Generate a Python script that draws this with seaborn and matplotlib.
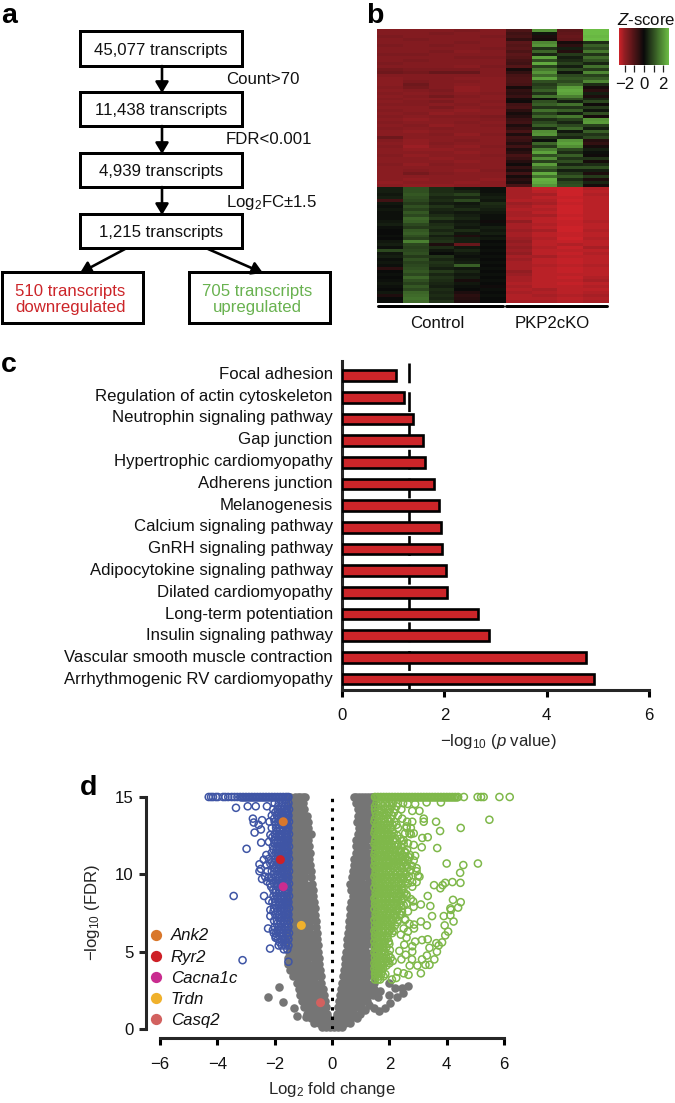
import numpy as np
import pandas as pd
import matplotlib
matplotlib.use("Agg")
import matplotlib.pyplot as plt
from matplotlib.colors import LinearSegmentedColormap
from matplotlib.patches import Rectangle
from matplotlib.transforms import ScaledTranslation
import seaborn as sns

# Panel a: flow chart text
flow_labels = ["45,077 transcripts", "11,438 transcripts", "4,939 transcripts", "1,215 transcripts"]
flow_steps = ["Count>70", "FDR<0.001", "Log$_2$FC\u00b11.5"]
down_label = "510 transcripts\ndownregulated"
up_label = "705 transcripts\nupregulated"

# Panel b: heatmap rows
top_control = [
    [-1.8,-1.8,-1.8,-1.7,-1.8],[-1.8,-1.8,-1.7,-1.8,-1.8],[-1.7,-1.8,-1.8,-1.8,-1.7],[-1.8,-1.7,-1.8,-1.8,-1.8],
    [-1.8,-1.8,-1.8,-1.7,-1.8],[-1.7,-1.8,-1.7,-1.8,-1.8],[-1.8,-1.8,-1.8,-1.8,-1.7],[-1.8,-1.8,-1.7,-1.9,-1.8],
    [-1.7,-1.7,-1.8,-1.8,-1.8],[-1.8,-1.8,-1.8,-1.7,-1.7],[-1.8,-1.7,-1.8,-1.8,-1.8],[-1.7,-1.8,-1.8,-1.8,-1.8],
    [-1.8,-1.8,-1.8,-1.9,-1.7],[-1.6,-1.7,-1.7,-1.7,-1.8],[-1.5,-1.6,-1.4,-1.4,-1.8],[-1.8,-1.8,-1.8,-1.8,-1.8],
    [-1.9,-1.8,-1.8,-1.9,-1.9],[-1.9,-1.7,-1.8,-1.8,-1.9],[-1.9,-1.5,-1.8,-1.9,-1.9],[-1.8,-1.6,-1.8,-2.0,-1.9],
    [-1.9,-1.8,-1.7,-2.0,-1.9],[-1.8,-1.9,-1.8,-1.9,-1.8],[-1.9,-1.8,-1.6,-1.8,-1.9],[-1.8,-1.9,-1.9,-1.9,-1.9],
    [-1.9,-1.8,-1.7,-1.9,-1.8],[-1.8,-1.8,-1.9,-1.8,-1.9],[-1.9,-1.9,-1.7,-1.9,-1.8],[-1.8,-1.9,-1.9,-2.0,-1.9],
    [-1.9,-1.8,-2.0,-1.9,-1.9],[-1.8,-1.9,-1.8,-1.8,-1.7],[-1.9,-2.0,-1.9,-1.9,-1.8],[-1.8,-1.9,-1.9,-1.8,-1.9],
    [-1.9,-1.8,-2.0,-1.9,-1.8],[-1.8,-1.9,-1.8,-1.9,-1.9],[-1.9,-2.0,-1.9,-1.9,-1.9],[-1.9,-1.9,-1.8,-2.0,-1.8],
    [-1.5,-1.9,-1.9,-1.9,-1.9],[-1.8,-2.0,-1.9,-1.8,-1.9],[-1.9,-2.0,-1.8,-1.9,-1.9],[-1.8,-2.1,-1.9,-2.0,-1.8],
    [-1.9,-2.0,-2.0,-1.9,-1.9],[-1.9,-1.9,-1.9,-2.0,-1.9],[-1.8,-2.0,-1.9,-1.9,-1.8],[-1.9,-1.9,-2.0,-1.9,-1.9],
    [-1.9,-1.9,-1.9,-2.0,-1.9],[-1.8,-2.0,-1.8,-1.9,-1.9],[-1.9,-1.9,-1.9,-1.9,-1.9],[-1.9,-1.8,-1.9,-2.0,-1.8],
    [-1.9,-1.6,-1.8,-1.9,-1.9],[-1.9,-1.9,-1.9,-1.9,-1.9],[-1.9,-2.0,-1.9,-1.9,-2.0],[-2.0,-1.9,-1.9,-2.0,-1.9],
    [-1.9,-2.0,-2.0,-1.9,-1.9],
]
top_ko = [
    [-1.0,2.0,-1.2,2.6],[-0.8,0.2,-1.3,2.6],[-0.9,-0.3,-1.4,2.5],[-0.6,-0.2,-1.3,2.6],[-1.2,1.8,-0.2,0.5],
    [-1.1,2.0,-0.5,1.2],[-1.2,0.6,0.3,0.9],[-1.0,1.3,-0.4,1.6],[-1.2,0.4,0.7,0.6],[-1.1,2.2,0.3,1.4],
    [-0.9,1.0,0.5,1.0],[-0.8,2.3,0.8,0.4],[-1.1,0.8,0.3,1.5],[-0.2,1.6,0.9,0.7],[-0.6,2.0,0.2,1.8],
    [-0.9,1.4,0.9,0.8],[-1.0,2.2,1.1,1.2],[-1.0,1.0,0.9,1.8],[-0.9,0.7,1.3,0.5],[-0.2,0.9,2.1,-0.2],
    [-0.6,1.2,2.3,-0.5],[-0.5,0.6,2.2,0.3],[-0.7,1.5,1.7,-0.3],[-0.2,0.1,1.0,0.4],[-0.1,1.0,0.3,0.9],
    [-0.8,1.2,1.5,-0.1],[-0.9,0.6,0.6,0.7],[-0.5,1.5,1.2,0.2],[-0.2,0.8,0.3,1.0],[-0.4,1.3,1.6,-0.2],
    [-0.7,0.5,0.8,2.0],[-0.8,0.9,0.4,2.1],[-0.3,1.2,0.9,0.8],[-0.6,0.4,1.4,0.3],[-0.9,1.9,0.2,1.2],
    [-0.3,2.0,0.7,0.6],[-0.8,0.6,0.4,0.9],[-0.7,0.1,2.0,-0.4],[-0.4,1.3,2.2,-0.6],[-0.8,0.7,1.9,-0.2],
    [-0.3,1.7,0.9,0.3],[-0.5,2.2,0.5,0.1],[-0.9,1.0,1.2,-0.1],[-0.7,1.9,0.6,0.6],[-0.4,0.8,1.0,-0.2],
    [-0.1,2.1,0.4,0.5],[-0.6,1.4,1.0,1.0],[-0.3,0.9,0.3,0.3],[-0.8,2.3,0.7,-0.3],[-0.2,1.5,1.1,0.7],
    [-0.5,2.4,0.5,-0.3],[-0.3,2.3,0.9,0.4],[-0.9,2.0,1.0,-0.2],
]
bottom_control = [
    [0.3,1.0,0.5,0.2,0.1],[0.3,1.0,0.5,0.4,0.1],[0.2,1.1,0.6,0.8,0.2],[0.3,1.0,0.4,0.4,0.3],[-0.8,0.9,0.5,0.9,0.2],
    [0.2,0.7,0.3,0.2,0.5],[0.1,1.0,0.6,0.3,0.4],[0.2,0.8,0.4,0.5,0.3],[0.1,1.1,0.3,0.2,0.2],[0.1,0.9,0.5,0.3,0.1],
    [0.1,1.3,0.7,0.4,0.1],[0.2,1.2,0.3,0.2,-0.1],[0.3,0.9,0.5,0.3,0.1],[0.1,0.7,0.6,0.2,0.3],[0.0,1.1,0.4,0.5,0.2],
    [0.0,1.2,0.6,0.2,0.3],[0.1,1.0,0.3,-0.3,0.1],[0.0,0.8,0.5,0.3,0.2],[0.2,1.7,0.6,0.3,0.0],[0.3,0.9,-0.3,-1.4,0.1],
    [0.1,0.8,0.5,0.2,0.0],[0.9,0.9,0.2,0.4,0.1],[0.2,1.0,0.0,0.2,0.0],[0.3,0.7,0.6,0.1,0.1],[0.1,1.0,0.4,0.2,0.0],
    [0.2,0.8,0.6,0.3,0.1],[0.1,0.9,0.5,1.2,0.0],[-0.5,1.0,0.3,0.2,0.1],[0.0,1.1,0.7,0.4,0.0],[0.1,0.9,0.4,0.2,0.1],
    [0.0,1.3,0.6,0.3,0.0],[0.1,1.0,0.5,-0.2,0.1],[0.2,0.8,0.4,0.2,0.0],[0.1,1.1,0.3,0.1,-0.1],[0.0,0.9,0.5,0.0,0.1],
    [0.2,1.3,0.4,-0.3,0.0],[-0.3,1.4,0.5,-0.5,0.1],[0.0,1.5,0.4,-0.4,0.0],[0.1,1.4,0.6,-0.3,0.0],
]
bottom_ko = [
    [-2.2,-2.5,-2.6,-2.3],[-2.2,-2.4,-2.6,-2.4],[-2.2,-2.2,-2.6,-2.3],[-2.2,-2.4,-2.5,-2.4],[-2.3,-2.3,-2.6,-2.4],
    [-2.1,-2.2,-2.5,-2.4],[-2.2,-2.4,-2.6,-2.4],[-2.3,-2.3,-2.6,-2.4],[-2.2,-2.4,-2.6,-2.4],[-2.2,-2.2,-2.5,-2.4],
    [-2.3,-2.4,-2.6,-2.4],[-2.0,-2.4,-2.5,-2.3],[-2.2,-2.3,-2.5,-2.4],[-2.2,-2.4,-2.6,-2.4],[-2.1,-2.2,-2.6,-2.3],
    [-2.2,-2.4,-2.5,-2.4],[-2.2,-2.4,-2.5,-2.4],[-2.1,-2.3,-2.6,-2.3],[-2.0,-2.4,-2.5,-2.4],[-2.1,-2.4,-2.3,-2.4],
    [-2.0,-2.3,-2.5,-2.2],[-2.1,-2.4,-2.4,-2.4],[-2.0,-2.4,-2.5,-2.3],[-2.2,-2.2,-2.4,-2.4],[-2.1,-2.4,-2.5,-2.4],
    [-2.2,-2.4,-2.5,-2.4],[-2.2,-2.3,-2.4,-2.3],[-2.2,-2.4,-2.5,-2.4],[-2.0,-2.4,-2.5,-2.4],[-2.1,-2.4,-2.4,-2.4],
    [-2.2,-2.4,-2.5,-2.3],[-2.2,-2.4,-2.4,-2.2],[-2.3,-2.4,-2.5,-2.4],[-2.2,-2.4,-2.4,-2.3],[-2.3,-2.2,-2.4,-2.4],
    [-2.2,-2.3,-2.4,-2.3],[-2.3,-2.2,-2.3,-2.2],[-2.3,-2.3,-2.4,-2.3],[-2.2,-2.2,-2.3,-2.2],
]
group_labels = ["Control", "PKP2cKO"]
z_ticks = [-2, -1, 0, 1, 2]
z_ticklabels = ["\u22122", "", "0", "", "2"]

# Panel c: pathway enrichment
pathways = [
    "Focal adhesion", "Regulation of actin cytoskeleton", "Neutrophin signaling pathway", "Gap junction",
    "Hypertrophic cardiomyopathy", "Adherens junction", "Melanogenesis", "Calcium signaling pathway",
    "GnRH signaling pathway", "Adipocytokine signaling pathway", "Dilated cardiomyopathy",
    "Long-term potentiation", "Insulin signaling pathway", "Vascular smooth muscle contraction",
    "Arrhythmogenic RV cardiomyopathy",
]
log_p = [1.05, 1.21, 1.38, 1.59, 1.63, 1.79, 1.89, 1.94, 1.95, 2.03, 2.06, 2.65, 2.87, 4.76, 4.92]
p_cutoff = 1.3

# Panel d: volcano points, y level -> x values
gray_rows = {
    15.0: [-1.45,-1.3,-1.2,-1.1,-1.0,-0.93,0.75,0.85,0.95,1.05,1.15,1.25,1.35,1.42],
    14.6: [-1.45,-1.28,-1.11,-1.0,0.85,0.95,1.08,1.25,1.42], 14.2: [-1.45,-1.28,-1.11,-0.98,0.92,1.08,1.25,1.42],
    13.8: [-1.45,-1.28,-1.11,-0.94,-0.88,0.9,1.08,1.25,1.42], 13.4: [-1.45,-1.28,-1.11,-0.94,-0.82,0.88,1.08,1.25,1.42],
    13.0: [-1.45,-1.28,-1.11,-0.94,-0.85,0.95,1.08,1.25,1.42], 12.6: [-1.45,-1.28,-1.11,-0.94,-0.72,0.92,1.08,1.25,1.42],
    12.2: [-1.45,-1.28,-1.11,-0.94,-0.82,0.85,1.02,1.2,1.42], 11.8: [-1.45,-1.28,-1.11,-0.94,-0.8,0.85,1.02,1.2,1.42],
    11.4: [-1.45,-1.28,-1.11,-0.94,-0.78,0.82,0.98,1.15,1.3,1.42], 11.0: [-1.45,-1.28,-1.11,-0.94,-0.8,0.78,0.95,1.12,1.28,1.42],
    10.6: [-1.45,-1.28,-1.11,-0.94,-0.76,0.76,0.92,1.08,1.25,1.42], 10.2: [-1.45,-1.28,-1.11,-0.94,-0.74,0.72,0.91,1.08,1.25,1.42],
    9.8: [-1.45,-1.28,-1.11,-0.94,-0.72,0.7,0.88,1.05,1.25,1.42], 9.4: [-1.45,-1.28,-1.11,-0.94,-0.7,0.62,0.78,0.95,1.12,1.28,1.42],
    9.0: [-1.45,-1.28,-1.11,-0.94,-0.8,-0.68,0.66,0.82,1.0,1.18,1.42], 8.6: [-1.45,-1.28,-1.11,-0.94,-0.8,-0.66,0.72,0.88,1.05,1.25,1.42],
    8.2: [-1.45,-1.28,-1.11,-0.94,-0.77,-0.62,0.68,0.85,1.02,1.2,1.42], 7.8: [-1.45,-1.28,-1.11,-0.94,-0.77,-0.6,0.64,0.8,0.98,1.15,1.3,1.42],
    7.4: [-1.45,-1.28,-1.11,-0.94,-0.77,-0.58,0.62,0.78,0.95,1.12,1.28,1.42], 7.0: [-1.45,-1.28,-1.11,-0.94,-0.77,-0.56,0.6,0.76,0.92,1.08,1.25,1.42],
    6.6: [-1.45,-1.28,-1.11,-0.94,-0.77,-0.55,0.58,0.74,0.91,1.08,1.25,1.42], 6.2: [-1.45,-1.28,-1.11,-0.94,-0.77,-0.54,0.56,0.72,0.9,1.08,1.25,1.42],
    5.8: [-1.45,-1.28,-1.11,-0.94,-0.77,-0.6,-0.52,0.54,0.7,0.88,1.05,1.25,1.42], 5.4: [-1.47,-1.28,-1.11,-0.94,-0.77,-0.6,-0.5,0.52,0.68,0.85,1.02,1.2,1.42],
    5.0: [-1.5,-1.32,-1.14,-0.97,-0.8,-0.63,-0.5,0.5,0.66,0.82,1.0,1.2,1.42], 4.6: [-1.52,-1.35,-1.18,-1.0,-0.82,-0.64,-0.46,0.46,0.62,0.8,0.98,1.15,1.3,1.42],
    4.2: [-1.52,-1.35,-1.18,-1.0,-0.82,-0.64,-0.44,0.44,0.6,0.78,0.95,1.12,1.28,1.42], 3.8: [-1.45,-1.28,-1.11,-0.94,-0.77,-0.6,-0.42,0.42,0.58,0.75,0.92,1.08,1.25,1.42],
    3.4: [-1.35,-1.18,-1.02,-0.86,-0.7,-0.54,-0.4,0.38,0.54,0.7,0.88,1.05,1.22,1.42], 3.0: [-1.22,-1.06,-0.9,-0.74,-0.58,-0.37,0.35,0.52,0.7,0.88,1.05,1.22,1.45],
    2.6: [-1.15,-0.98,-0.82,-0.66,-0.5,-0.32,0.3,0.46,0.62,0.8,0.98,1.15,1.32,1.45], 2.2: [-1.12,-0.96,-0.8,-0.64,-0.46,-0.28,0.27,0.44,0.6,0.78,0.95,1.12,1.28,1.42],
    1.8: [-1.05,-0.88,-0.72,-0.56,-0.4,-0.25,0.24,0.4,0.56,0.74,0.92,1.08,1.22], 1.4: [-0.98,-0.82,-0.66,-0.5,-0.35,-0.22,0.2,0.36,0.52,0.68,0.84,1.0],
    1.0: [-0.88,-0.72,-0.56,-0.42,-0.28,-0.16,0.16,0.3,0.44,0.6,0.78,0.98], 0.7: [-0.75,-0.6,-0.45,-0.3,-0.15,0.15,0.3,0.46,0.66,0.86],
    0.4: [-0.62,-0.46,-0.3,-0.14,0.0,0.14,0.3,0.46,0.62], 0.12: [-0.36,-0.22,-0.08,0.08,0.22,0.36],
}
gray_extra_x = [-1.86,-2.24,-1.71,-1.34,-1.22,-0.91,1.69,1.6,2.0,2.27,2.46,2.64,2.44,2.2,1.98,2.03,1.86,1.63,1.45,1.28,1.16]
gray_extra_y = [2.7,2.07,1.77,1.34,0.86,0.78,2.44,2.1,2.2,2.1,2.3,2.76,2.65,2.65,3.0,1.7,1.35,1.15,1.35,1.55,1.25]

blue_rows = {
    15.0: [-4.3,-4.22,-4.15,-4.05,-3.98,-3.8,-3.72,-3.62,-3.5,-3.4,-3.3,-3.2,-3.1,-3.0,-2.9,-2.8,-2.7,-2.6,-2.5,-2.4,-2.3,-2.2,-2.1,-2.0,-1.9,-1.8,-1.7,-1.6,-1.52],
    14.97: [-3.15,-3.05,-2.95,-2.85,-2.75,-2.65,-2.55,-2.45,-2.35,-2.25,-2.15,-2.05,-1.95,-1.85,-1.75,-1.65,-1.55],
    14.6: [-1.52,-1.6,-1.72,-1.85,-2.0], 14.2: [-1.5,-1.58,-1.66,-1.78,-1.9,-2.05],
    13.8: [-1.52,-1.6,-1.7,-1.8,-1.92,-2.1], 13.4: [-1.5,-1.58,-1.68,-1.78,-1.88,-2.0,-2.18],
    13.0: [-1.52,-1.6,-1.7,-1.82,-1.95,-2.1], 12.6: [-1.5,-1.58,-1.66,-1.76,-1.86,-2.0],
    12.2: [-1.52,-1.6,-1.68,-1.78,-1.9,-2.02], 11.8: [-1.5,-1.58,-1.66,-1.74,-1.84,-1.94,-2.06],
    11.4: [-1.52,-1.6,-1.68,-1.76,-1.86,-1.96,-2.1], 11.0: [-1.5,-1.58,-1.66,-1.74,-1.84,-1.96,-2.2],
    10.6: [-1.52,-1.6,-1.7,-1.8,-1.92,-2.04,-2.28], 10.2: [-1.5,-1.58,-1.68,-1.8,-1.94,-2.1,-2.25],
    9.8: [-1.52,-1.6,-1.7,-1.82,-1.96,-2.12,-2.2], 9.4: [-1.5,-1.58,-1.68,-1.78,-1.9,-2.02,-2.16],
    9.0: [-1.52,-1.6,-1.72,-1.84,-1.96,-2.05], 8.6: [-1.5,-1.58,-1.68,-1.8,-1.92,-2.04],
    8.2: [-1.52,-1.6,-1.7,-1.82,-1.96,-2.08], 7.8: [-1.5,-1.58,-1.68,-1.8,-1.92,-2.02],
    7.4: [-1.52,-1.6,-1.7,-1.84,-1.98], 7.0: [-1.5,-1.58,-1.68,-1.8,-1.92,-2.02],
    6.6: [-1.52,-1.62,-1.74,-1.86,-2.0], 6.2: [-1.5,-1.6,-1.72,-1.84,-1.95],
    5.8: [-1.52,-1.64,-1.76,-1.88], 5.4: [-1.52,-1.62,-1.75,-1.86], 5.15: [-1.56,-1.68],
    14.4: [-1.55,-1.65,-1.75,-1.88], 14.0: [-1.55,-1.63,-1.74,-1.85,-1.98], 13.6: [-1.54,-1.64,-1.75,-1.86,-2.02],
    13.2: [-1.55,-1.65,-1.74,-1.85,-1.96], 12.8: [-1.54,-1.62,-1.72,-1.82,-1.92], 12.4: [-1.55,-1.64,-1.73,-1.84,-1.96,-2.08],
    12.0: [-1.54,-1.62,-1.7,-1.8,-1.9,-2.0], 11.6: [-1.55,-1.64,-1.72,-1.82,-1.92,-2.04], 11.2: [-1.54,-1.62,-1.7,-1.8,-1.9,-2.02],
    10.8: [-1.55,-1.64,-1.74,-1.85,-1.98,-2.1], 10.4: [-1.54,-1.62,-1.74,-1.86,-2.0], 10.0: [-1.55,-1.64,-1.76,-1.88,-2.04],
    9.6: [-1.54,-1.63,-1.74,-1.84,-1.96,-2.08], 9.2: [-1.55,-1.66,-1.78,-1.9], 8.8: [-1.54,-1.64,-1.74,-1.86,-1.98],
    8.4: [-1.55,-1.65,-1.76,-1.88,-2.0], 8.0: [-1.54,-1.64,-1.75,-1.86,-1.98], 7.6: [-1.55,-1.65,-1.77,-1.9,-2.04],
    7.2: [-1.54,-1.64,-1.76,-1.86], 6.8: [-1.55,-1.66,-1.8,-1.92], 6.4: [-1.56,-1.68,-1.78,-1.9,-2.06], 6.0: [-1.55,-1.7,-1.82,-1.96],
    5.6: [-1.58,-1.7,-1.82],
}
blue_extra_x = [-3.35,-2.94,-2.66,-2.27,-2.76,-2.73,-2.44,-2.56,-2.7,-2.48,-2.47,-2.98,-2.15,-2.2,-2.29,-2.53,-2.48,-2.53,-2.38,-2.15,-2.44,-2.33,-2.27,-2.12,-3.43,-2.37,-2.2,-2.15,-2.15,-2.23,-2.03,-1.97,-2.16,-3.12,-1.52]
blue_extra_y = [14.3,14.4,14.4,14.4,13.6,13.35,13.5,13.2,12.7,12.9,12.05,11.65,12.55,12.1,11.25,10.65,10.35,10.2,10.95,10.7,9.7,9.85,9.55,9.2,8.6,8.6,8.3,7.7,7.3,6.5,6.2,5.9,5.2,4.45,4.35]

green_rows = {
    15.0: [1.5,1.6,1.7,1.8,1.9,2.0,2.1,2.2,2.3,2.4,2.5,2.6,2.7,2.8,2.9,3.0,3.1,3.2,3.3,3.4,3.5,3.6,3.7,3.8,3.9,4.0,4.1,4.2,4.3,4.4,4.6,5.08,5.2,5.29,5.84,6.2],
    14.97: [1.55,1.65,1.75,1.85,1.95,2.05,2.15,2.25,2.35,2.45,2.55,2.65,2.75,2.85,2.95,3.05,3.15,3.25,3.35,3.45,3.55,3.65,3.75,3.85,3.95,4.05,4.15,4.25,4.35],
    14.6: [1.55,1.7,1.85,2.0,2.12,2.3,2.48], 14.2: [1.5,1.6,1.72,1.88,2.02,2.2,2.42],
    13.8: [1.55,1.65,1.78,1.92,2.1,2.3], 13.4: [1.48,1.6,1.72,1.85,2.0,2.18,2.62,2.8],
    13.0: [1.52,1.62,1.75,1.9,2.05,2.3,2.6,2.75], 12.65: [1.48,1.6,1.7,1.82,1.98,2.15,2.55,2.7,2.85],
    12.3: [1.52,1.64,1.76,1.9,2.02,2.2,2.38], 11.95: [1.48,1.58,1.7,1.82,1.95,2.08,2.3,2.5],
    11.6: [1.52,1.62,1.74,1.86,2.0,2.16,2.32,2.62], 11.25: [1.48,1.6,1.72,1.84,1.96,2.1,2.26,2.44,2.72],
    10.9: [1.5,1.62,1.74,1.88,2.0,2.14,2.3,2.48,2.65,2.85], 10.55: [1.48,1.58,1.7,1.82,1.94,2.08,2.24,2.4,2.6,2.78],
    10.2: [1.52,1.64,1.76,1.9,2.04,2.2,2.36,2.52,2.72,2.95], 9.85: [1.48,1.58,1.7,1.84,1.98,2.14,2.3,2.48,2.68,3.05],
    9.5: [1.52,1.62,1.74,1.88,2.02,2.18,2.34,2.55,2.8,2.95], 9.15: [1.48,1.6,1.72,1.86,2.0,2.16,2.32,2.5],
    8.8: [1.52,1.64,1.76,1.9,2.04,2.18,2.34,2.52], 8.45: [1.48,1.58,1.72,1.86,2.0,2.14,2.3,2.5],
    8.1: [1.5,1.62,1.76,1.88,2.02,2.18,2.36,2.6], 7.75: [1.48,1.6,1.72,1.84,2.0,2.14,2.3],
    7.4: [1.52,1.64,1.76,1.9,2.02,2.18,2.36], 7.05: [1.48,1.58,1.7,1.84,1.98,2.12,2.3,2.55],
    6.7: [1.5,1.62,1.74,1.88,2.02,2.2], 6.35: [1.48,1.6,1.72,1.86,2.0,2.15],
    6.0: [1.5,1.62,1.76,1.92], 5.65: [1.48,1.58,1.7,1.84,1.98], 5.3: [1.5,1.62,1.76,1.9],
    4.95: [1.48,1.58,1.72,1.86], 4.6: [1.5,1.6,1.74,1.9,2.05], 4.25: [1.48,1.58,1.7,1.84,2.0],
    3.9: [1.48,1.56,1.66,1.78], 3.55: [1.5,1.6,1.72,1.86], 3.2: [1.5,1.6,1.68],
    14.4: [1.5,1.62,1.78,1.94,2.08,2.25], 14.0: [1.52,1.68,1.82,1.98,2.16], 13.6: [1.5,1.64,1.78,1.94,2.05],
    13.2: [1.55,1.68,1.8,1.95,2.12,2.25], 12.85: [1.5,1.66,1.8,1.94,2.1], 12.5: [1.55,1.68,1.82,1.96,2.1,2.28],
    12.15: [1.5,1.62,1.76,1.88,2.0,2.14,2.44], 11.8: [1.54,1.66,1.78,1.92,2.06,2.22,2.4], 11.45: [1.5,1.66,1.78,1.9,2.04,2.2,2.36,2.55],
    11.1: [1.54,1.68,1.8,1.92,2.06,2.2,2.38,2.56], 10.75: [1.52,1.66,1.78,1.9,2.02,2.18,2.34,2.52], 10.4: [1.54,1.68,1.8,1.96,2.12,2.28,2.44,2.62],
    10.0: [1.52,1.64,1.76,1.9,2.06,2.22,2.4,2.58], 9.7: [1.56,1.68,1.8,1.94,2.1,2.26,2.42,2.62], 9.35: [1.54,1.66,1.78,1.92,2.08,2.24,2.42],
    9.0: [1.56,1.68,1.82,1.96,2.1,2.26,2.44], 8.6: [1.54,1.68,1.82,1.94,2.1,2.26,2.42,2.6], 8.3: [1.52,1.66,1.8,1.94,2.08,2.24,2.42],
    7.95: [1.54,1.68,1.82,1.94,2.08,2.24,2.42], 7.6: [1.56,1.7,1.82,1.96,2.1,2.26,2.44], 7.2: [1.54,1.66,1.78,1.92,2.06,2.24],
    6.9: [1.56,1.68,1.8,1.94,2.08,2.28], 6.5: [1.54,1.66,1.8,1.94,2.08], 6.2: [1.52,1.66,1.8,1.96,2.1], 5.85: [1.54,1.68,1.82,1.94],
    5.5: [1.54,1.66,1.8,2.0], 5.1: [1.54,1.66,1.8,2.02], 4.8: [1.54,1.66,1.82,1.98], 4.4: [1.54,1.64,1.78,1.96,2.12],
    4.1: [1.52,1.62,1.74,1.9], 3.7: [1.52,1.62,1.74], 3.4: [1.52,1.64,1.8],
}
green_extra_x = [5.49,4.49,3.63,3.77,3.2,3.2,3.3,3.8,2.9,2.64,3.05,2.8,3.15,3.34,3.67,3.13,4.0,4.58,5.09,4.47,4.48,4.2,3.95,3.86,3.78,3.56,3.34,4.22,4.49,3.43,3.1,2.83,4.13,4.15,4.4,4.13,3.9,3.49,4.24,3.1,3.31,2.86,2.86,3.93,4.05,3.95,3.34,3.14,2.9,3.84,3.64,3.72,3.4,3.66,2.52,2.35,2.8,2.8,2.57,3.31,3.57,3.14,2.79,2.42,2.71,2.98,3.26,3.4,3.1,2.67,2.5,2.29,2.24,2.09,
                 2.45,2.6,2.75,2.5,2.65,2.85,2.4,2.55,2.7,2.9,2.45,2.6,2.75,2.95,3.0,2.5,2.65,2.8,2.45,2.6,2.75,2.5,2.65,2.4,2.55,2.7,2.85,2.5,2.65,2.4,2.6]
green_extra_y = [13.53,13.0,13.4,12.8,13.6,13.4,14.65,14.65,14.55,14.55,14.1,14.1,12.35,12.4,11.7,11.75,10.7,10.6,10.7,10.1,9.45,9.5,9.45,9.3,9.1,9.3,8.6,8.35,8.2,7.95,8.05,8.25,7.8,7.7,7.85,7.35,7.3,7.3,6.95,6.95,6.7,6.75,6.5,6.7,6.3,6.05,5.8,5.75,5.65,5.6,5.55,5.4,5.25,5.0,5.45,5.05,5.35,5.0,4.8,4.75,4.5,4.5,4.5,4.5,4.1,4.1,4.15,4.15,3.6,3.5,3.6,3.7,3.3,3.2,
                 13.6,13.1,12.6,12.2,12.0,11.9,11.5,11.4,11.1,11.2,10.9,10.6,10.3,10.4,9.9,9.7,9.4,9.2,9.0,8.7,8.4,8.0,7.6,7.4,7.1,6.8,7.9,6.5,6.3,6.1,5.9]

genes = ["Ank2", "Ryr2", "Cacna1c", "Trdn", "Casq2"]
gene_x = [-1.7, -1.8, -1.7, -1.07, -0.4]
gene_y = [13.4, 10.95, 9.2, 6.7, 1.7]
gene_colors = ["#D9772B", "#CE2027", "#C92C8F", "#F0B12C", "#D2615F"]

W, H = 675, 1103
RED = "#CC2529"
GREEN_TXT = "#69B250"
BLUE = "#3F55A5"
GREEN = "#7FB84A"
GRAY = "#757575"
FS = 12.1
PX = 72 / 100  # points per pixel


def rows_to_frame(rows, extra_x, extra_y):
    xs = [x for y, vals in rows.items() for x in vals] + extra_x
    ys = [y for y, vals in rows.items() for _ in vals] + extra_y
    return pd.DataFrame({"x": xs, "y": ys})


def px_axes(left, top, right, bottom):
    return fig.add_axes([left / W, 1 - bottom / H, (right - left) / W, (bottom - top) / H])


sns.set_theme(style="ticks")
plt.rcParams["font.family"] = ["Liberation Sans", "DejaVu Sans"]
plt.rcParams["mathtext.fontset"] = "custom"
plt.rcParams["mathtext.rm"] = "Liberation Sans"
plt.rcParams["mathtext.it"] = "Liberation Sans:italic"
plt.rcParams["mathtext.default"] = "regular"
plt.rcParams["text.color"] = "#111111"
plt.rcParams["xtick.color"] = "black"
plt.rcParams["xtick.labelcolor"] = "#111111"
plt.rcParams["ytick.labelcolor"] = "#111111"

fig = plt.figure(figsize=(W / 100, H / 100), dpi=100)

# overlay in pixel coordinates for the flow chart and the panel letters
page = fig.add_axes([0, 0, 1, 1], zorder=5)
page.set_xlim(0, W)
page.set_ylim(H, 0)
page.axis("off")
page.patch.set_alpha(0)

for letter, lx, ly in [("a", 1, 23), ("b", 366, 23), ("c", 1, 372), ("d", 80, 795)]:
    page.text(lx, ly, letter, fontsize=20.5, fontweight="bold", color="black", va="baseline")

# a
box_lw = 3 * PX
tops = [31, 92, 153, 214]
bots = [66, 126, 187, 248]
for label, t, b in zip(flow_labels, tops, bots):
    page.add_patch(Rectangle((80, t), 162, b - t, fc="white", ec="black", lw=box_lw))
    page.text(161, (t + b) / 2 + 1.5, label, ha="center", va="center", fontsize=FS)
for x0, color, label in [(2, RED, down_label), (189, GREEN_TXT, up_label)]:
    page.add_patch(Rectangle((x0, 272), 140.5, 51, fc="white", ec="black", lw=box_lw))
    page.text(x0 + 68.5, 299.5, label, ha="center", va="center", fontsize=FS, color=color, linespacing=1.15)
for step, y in zip(flow_steps, [79, 140, 202]):
    page.text(226, y, step, va="center", fontsize=FS)
arrows = [((162, 66), (162, 93)), ((162, 126), (162, 154)), ((162, 187), (162, 215)),
          ((125, 249), (80, 273)), ((208, 249), (263, 273))]
for a, b in arrows:
    page.annotate("", xy=b, xytext=a, arrowprops=dict(arrowstyle="-|>,head_length=0.5,head_width=0.3", color="black",
                                                      lw=2.6 * PX, shrinkA=0, shrinkB=0, mutation_scale=13))

# b
heat = np.vstack([np.hstack([top_control, top_ko]), np.hstack([bottom_control, bottom_ko])])
zcmap = LinearSegmentedColormap.from_list(
    "zscore", [(0, "#CC2229"), (0.12, "#8E1D22"), (0.5, "#0A0A0A"), (1, "#6CBD45")])
ax_b = px_axes(377, 29, 609, 303)
ax_z = px_axes(619, 28, 669, 65)
sns.heatmap(heat, ax=ax_b, cmap=zcmap, vmin=-2.6, vmax=2.6, xticklabels=False, yticklabels=False,
            cbar_ax=ax_z, cbar_kws={"orientation": "horizontal", "ticks": z_ticks})
ax_z.set_xticklabels(z_ticklabels, fontsize=FS)
ax_z.tick_params(length=5, width=0.9, pad=3.5, color="#222222")
page.text(646, 20, "$\\mathit{Z}$-score", fontsize=FS, ha="center", va="center")
page.plot([378, 503], [306, 306], color="black", lw=3 * PX)
page.plot([506, 607], [306, 306], color="black", lw=3 * PX)
for label, x in zip(group_labels, [437, 552]):
    page.text(x, 323, label, ha="center", va="center", fontsize=FS)

# c
ax_c = px_axes(342, 361, 649, 690)
sns.barplot(x=log_p, y=pathways, ax=ax_c, color=RED, saturation=1, width=0.49, edgecolor="black", linewidth=1.9, zorder=3)
ax_c.plot([p_cutoff, p_cutoff], [-0.6, 14.5], color="black", lw=1.9, dashes=(7.5, 3.4), zorder=1)
ax_c.set_xlim(0, 6)
ax_c.set_ylim(14.51, -0.68)
ax_c.set_xticks([0, 2, 4, 6])
ax_c.tick_params(axis="y", length=0, pad=6.5, labelsize=FS)
ax_c.tick_params(axis="x", length=5, width=2.2, pad=8, labelsize=FS)
ax_c.set_xlabel("\u2212log$_{10}$ ($\\mathit{p}$ value)", fontsize=FS, labelpad=6.5, x=0.51)
ax_c.set_ylabel("")
for side in ["left", "bottom"]:
    ax_c.spines[side].set_linewidth(2.2)
sns.despine(ax=ax_c)
# the pathway labels sit a little above their bars, more at the top
for i, tick in enumerate(ax_c.get_yticklabels()):
    nudge = (3 - 2 * i / 14) * PX / 72
    tick.set_transform(tick.get_transform() + ScaledTranslation(0, nudge, fig.dpi_scale_trans))

# d
ax_d = px_axes(160, 797, 504, 1029)
gray_df = rows_to_frame(gray_rows, gray_extra_x, gray_extra_y)
blue_df = rows_to_frame(blue_rows, blue_extra_x, blue_extra_y)
green_df = rows_to_frame(green_rows, green_extra_x, green_extra_y)
sns.scatterplot(data=gray_df, x="x", y="y", ax=ax_d, color=GRAY, s=38, linewidth=0, clip_on=False, zorder=2)
ax_d.plot([0, 0], [0, 15.1], color="black", lw=2.2, dashes=(1.1, 2), zorder=3)
sns.scatterplot(data=blue_df, x="x", y="y", ax=ax_d, facecolors="none", edgecolor=BLUE, s=26, linewidth=1.1, clip_on=False, zorder=4)
sns.scatterplot(data=green_df, x="x", y="y", ax=ax_d, facecolors="none", edgecolor=GREEN, s=26, linewidth=1.1, clip_on=False, zorder=4)
gene_df = pd.DataFrame({"x": gene_x, "y": gene_y, "gene": genes})
sns.scatterplot(data=gene_df, x="x", y="y", hue="gene", palette=gene_colors, ax=ax_d, s=42, linewidth=0, zorder=5)
ax_d.set_xlim(-6, 6)
ax_d.set_ylim(0, 15)
ax_d.set_xticks([-6, -4, -2, 0, 2, 4, 6])
ax_d.set_yticks([0, 5, 10, 15])
ax_d.tick_params(length=5, width=2.2, pad=4, labelsize=FS)
ax_d.tick_params(axis="x", pad=8.5)
ax_d.set_xlabel("Log$_2$ fold change", fontsize=FS, labelpad=6)
ax_d.set_ylabel("\u2212log$_{10}$ (FDR)", fontsize=FS, labelpad=9.5)
ax_d.spines["left"].set_position(("outward", 14 * PX))
ax_d.spines["bottom"].set_position(("outward", 9 * PX))
ax_d.spines["left"].set_bounds(0, 15)
ax_d.spines["bottom"].set_bounds(-6, 6)
for side in ["left", "bottom"]:
    ax_d.spines[side].set_linewidth(2.2)
sns.despine(ax=ax_d)
ax_d.patch.set_alpha(0)
handles, labels = ax_d.get_legend_handles_labels()
ax_d.legend(handles, labels, loc="lower left", bbox_to_anchor=(139 / W, 1 - 1028 / H), bbox_transform=fig.transFigure,
            frameon=False, markerscale=1.25, handletextpad=-0.1, labelspacing=0.366, borderpad=0, borderaxespad=0,
            prop={"style": "italic", "size": FS})

fig.savefig("out.png", dpi=100)
